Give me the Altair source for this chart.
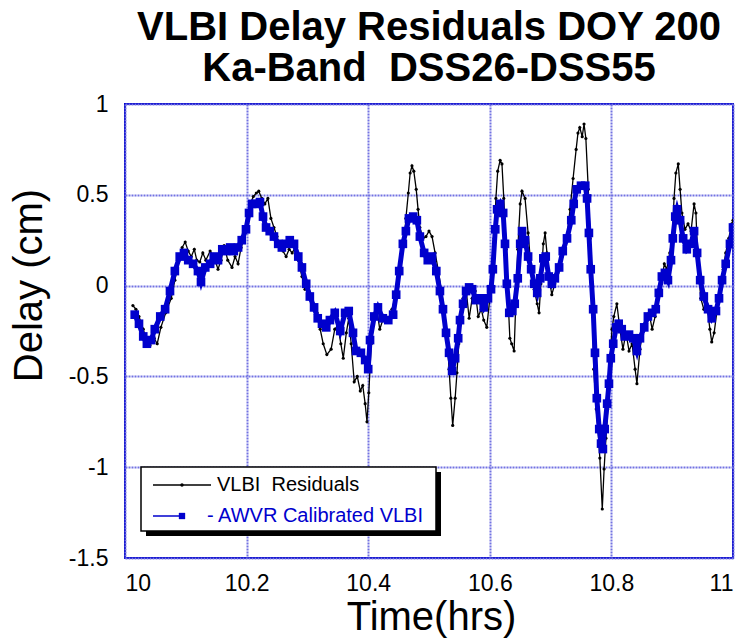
import altair as alt
import pandas as pd

# ---------------- data ----------------
vlbi_time = [
    10.013, 10.018, 10.023, 10.030, 10.036, 10.041, 10.048, 10.053, 10.059, 10.067,
    10.076, 10.082, 10.089, 10.094, 10.099, 10.104, 10.109, 10.114, 10.118, 10.123,
    10.128, 10.133, 10.140, 10.146, 10.153, 10.158, 10.163, 10.169, 10.176, 10.181,
    10.186, 10.191, 10.196, 10.201, 10.206, 10.211, 10.216, 10.220, 10.225, 10.230,
    10.235, 10.240, 10.245, 10.250, 10.255, 10.260, 10.265, 10.270, 10.275, 10.280,
    10.285, 10.291, 10.296, 10.301, 10.306, 10.311, 10.316, 10.321, 10.326, 10.332,
    10.339, 10.345, 10.350, 10.355, 10.359, 10.364, 10.368, 10.372, 10.377, 10.382,
    10.387, 10.391, 10.395, 10.398, 10.401, 10.405, 10.410, 10.414, 10.419, 10.424,
    10.429, 10.434, 10.439, 10.444, 10.449, 10.454, 10.459, 10.462, 10.466, 10.469,
    10.472, 10.475, 10.479, 10.482, 10.485, 10.490, 10.495, 10.500, 10.505, 10.510,
    10.515, 10.520, 10.525, 10.530, 10.533, 10.536, 10.539, 10.543, 10.546, 10.549,
    10.553, 10.556, 10.561, 10.566, 10.571, 10.576, 10.581, 10.586, 10.590, 10.595,
    10.600, 10.604, 10.607, 10.610, 10.613, 10.617, 10.620, 10.623, 10.627, 10.630,
    10.633, 10.636, 10.640, 10.643, 10.646, 10.650, 10.653, 10.658, 10.663, 10.668,
    10.673, 10.678, 10.681, 10.684, 10.688, 10.691, 10.694, 10.699, 10.702, 10.707,
    10.712, 10.717, 10.722, 10.727, 10.732, 10.737, 10.742, 10.745, 10.748, 10.752,
    10.755, 10.758, 10.762, 10.765, 10.768, 10.771, 10.775, 10.778, 10.781, 10.785,
    10.788, 10.791, 10.794, 10.798, 10.801, 10.804, 10.809, 10.814, 10.819, 10.824,
    10.829, 10.834, 10.839, 10.842, 10.847, 10.852, 10.857, 10.862, 10.867, 10.872,
    10.877, 10.882, 10.887, 10.891, 10.896, 10.900, 10.903, 10.906, 10.910, 10.913,
    10.916, 10.921, 10.926, 10.931, 10.936, 10.939, 10.942, 10.947, 10.952, 10.957,
    10.962, 10.965, 10.969, 10.974, 10.979, 10.984, 10.988, 10.993, 10.998, 11.000,
]
vlbi_delay = [
    -0.11, -0.13, -0.17, -0.24, -0.31, -0.33, -0.29, -0.32, -0.23, -0.15,
    -0.07, 0.03, 0.14, 0.21, 0.24, 0.19, 0.16, 0.20, 0.14, 0.13,
    0.18, 0.14, 0.19, 0.16, 0.09, 0.14, 0.22, 0.14, 0.10, 0.16,
    0.12, 0.21, 0.26, 0.36, 0.45, 0.49, 0.51, 0.52, 0.48, 0.45,
    0.48, 0.37, 0.32, 0.27, 0.21, 0.19, 0.16, 0.20, 0.18, 0.21,
    0.14, 0.05, -0.02, 0.02, -0.07, -0.13, -0.15, -0.24, -0.32, -0.38,
    -0.35, -0.24, -0.22, -0.32, -0.40, -0.26, -0.18, -0.32, -0.53, -0.50,
    -0.58, -0.55, -0.65, -0.75, -0.59, -0.32, -0.18, -0.13, -0.24, -0.19,
    -0.17, -0.19, -0.13, -0.07, 0.04, 0.14, 0.23, 0.37, 0.51, 0.62,
    0.66, 0.63, 0.53, 0.42, 0.32, 0.26, 0.27, 0.30, 0.27, 0.18,
    0.09, -0.02, -0.13, -0.29, -0.46, -0.62, -0.77, -0.62, -0.48, -0.32,
    -0.18, -0.07, -0.02, -0.18, -0.07, -0.03, -0.17, -0.13, -0.19, -0.23,
    -0.07, 0.04, 0.26, 0.48, 0.63, 0.69, 0.67, 0.48, 0.20, -0.07,
    -0.29, -0.32, -0.36, -0.07, 0.20, 0.45, 0.52, 0.48, 0.29, 0.09,
    -0.02, -0.10, -0.15, 0.01, 0.23, 0.29, 0.18, 0.01, -0.05, 0.01,
    0.07, 0.14, 0.19, 0.27, 0.42, 0.59, 0.75, 0.84, 0.87, 0.82,
    0.89, 0.81, 0.53, 0.26, -0.02, -0.46, -0.68, -0.79, -0.95, -1.23,
    -1.01, -0.84, -0.68, -0.40, -0.24, -0.17, -0.10, -0.24, -0.35, -0.26,
    -0.36, -0.32, -0.46, -0.54, -0.35, -0.24, -0.18, -0.15, -0.24, -0.17,
    -0.07, 0.01, 0.12, 0.09, 0.18, 0.26, 0.48, 0.62, 0.67, 0.53,
    0.40, 0.31, 0.34, 0.30, 0.45, 0.40, 0.15, -0.07, -0.13, -0.10,
    -0.24, -0.31, -0.26, -0.13, -0.02, 0.09, 0.18, 0.26, 0.34, 0.36,
]

awvr_time = [
    10.016, 10.023, 10.030, 10.036, 10.043, 10.049, 10.058, 10.066, 10.074, 10.082,
    10.090, 10.097, 10.104, 10.112, 10.120, 10.125, 10.132, 10.140, 10.146, 10.153,
    10.160, 10.166, 10.173, 10.179, 10.186, 10.192, 10.199, 10.204, 10.209, 10.215,
    10.222, 10.227, 10.232, 10.238, 10.245, 10.252, 10.258, 10.265, 10.271, 10.278,
    10.285, 10.291, 10.298, 10.304, 10.311, 10.317, 10.324, 10.331, 10.337, 10.345,
    10.354, 10.362, 10.368, 10.375, 10.380, 10.388, 10.395, 10.400, 10.403, 10.410,
    10.416, 10.424, 10.433, 10.441, 10.446, 10.451, 10.457, 10.462, 10.467, 10.474,
    10.480, 10.485, 10.492, 10.498, 10.505, 10.512, 10.518, 10.523, 10.528, 10.533,
    10.538, 10.543, 10.548, 10.551, 10.556, 10.561, 10.566, 10.571, 10.577, 10.584,
    10.590, 10.597, 10.602, 10.605, 10.609, 10.612, 10.617, 10.622, 10.625, 10.628,
    10.632, 10.637, 10.641, 10.646, 10.650, 10.653, 10.658, 10.663, 10.668, 10.673,
    10.678, 10.683, 10.688, 10.692, 10.697, 10.702, 10.707, 10.714, 10.720, 10.727,
    10.734, 10.738, 10.743, 10.750, 10.757, 10.760, 10.763, 10.766, 10.770, 10.773,
    10.776, 10.780, 10.783, 10.786, 10.789, 10.793, 10.796, 10.799, 10.803, 10.808,
    10.812, 10.817, 10.822, 10.829, 10.836, 10.842, 10.847, 10.854, 10.860, 10.867,
    10.873, 10.878, 10.883, 10.888, 10.893, 10.898, 10.901, 10.905, 10.908, 10.913,
    10.918, 10.924, 10.931, 10.936, 10.941, 10.946, 10.952, 10.959, 10.965, 10.972,
    10.977, 10.982, 10.988, 10.995, 11.000,
]
awvr_delay = [
    -0.16, -0.21, -0.28, -0.32, -0.30, -0.24, -0.17, -0.13, -0.03, 0.08,
    0.16, 0.18, 0.14, 0.12, 0.08, 0.02, 0.10, 0.12, 0.16, 0.14,
    0.20, 0.19, 0.21, 0.19, 0.21, 0.25, 0.31, 0.40, 0.45, 0.45,
    0.46, 0.38, 0.32, 0.30, 0.27, 0.23, 0.21, 0.23, 0.25, 0.23,
    0.16, 0.10, 0.01, -0.06, -0.12, -0.18, -0.21, -0.23, -0.19, -0.15,
    -0.25, -0.15, -0.14, -0.26, -0.36, -0.37, -0.41, -0.46, -0.30, -0.17,
    -0.12, -0.18, -0.19, -0.16, -0.05, 0.08, 0.23, 0.30, 0.37, 0.38,
    0.36, 0.27, 0.18, 0.14, 0.16, 0.08, -0.03, -0.13, -0.26, -0.37,
    -0.47, -0.40, -0.29, -0.19, -0.10, -0.03, -0.01, -0.02, -0.08, -0.07,
    -0.12, -0.07, -0.02, 0.09, 0.31, 0.42, 0.45, 0.40, 0.23, 0.01,
    -0.15, -0.14, -0.10, 0.04, 0.23, 0.30, 0.25, 0.16, 0.09, 0.01,
    -0.04, 0.04, 0.15, 0.16, 0.05, 0.01, 0.04, 0.10, 0.19, 0.26,
    0.36, 0.45, 0.53, 0.55, 0.55, 0.48, 0.29, 0.09, -0.13, -0.37,
    -0.62, -0.79, -0.87, -0.90, -0.79, -0.65, -0.54, -0.40, -0.32, -0.23,
    -0.21, -0.24, -0.28, -0.27, -0.29, -0.36, -0.29, -0.23, -0.17, -0.15,
    -0.13, -0.04, 0.05, 0.07, 0.03, 0.14, 0.26, 0.38, 0.42, 0.36,
    0.26, 0.20, 0.23, 0.30, 0.18, 0.03, -0.06, -0.13, -0.18, -0.14,
    -0.07, 0.03, 0.12, 0.23, 0.32,
]

x_ticks = [10, 10.2, 10.4, 10.6, 10.8, 11]
y_ticks = [1, 0.5, 0, -0.5, -1, -1.5]
legend_labels = ["VLBI\u00a0 Residuals", "- AWVR Calibrated VLBI"]
title_lines = ["VLBI Delay Residuals DOY 200", "Ka-Band\u00a0 DSS26-DSS55"]

# ---------------- chart ----------------
FONT = "Liberation Sans"
BLUE = "#0000CD"
GRID = "#7272E2"

vlbi = pd.DataFrame({"t": vlbi_time, "d": vlbi_delay})
awvr = pd.DataFrame({"t": awvr_time, "d": awvr_delay})

xscale = alt.Scale(domain=[10, 11], nice=False, zero=False)
yscale = alt.Scale(domain=[-1.5, 1], nice=False, zero=False)

xax = alt.Axis(values=x_ticks, labelExpr="'' + datum.value", title="Time(hrs)",
               grid=True, gridColor=GRID, gridWidth=2, gridDash=[2, 1],
               ticks=False, domain=False, labelFontSize=23, labelPadding=14,
               labelColor="black", labelFont=FONT, titleFont=FONT,
               titleFontSize=40, titleFontWeight="normal", titleColor="black",
               titleX=306, titleY=59, titleBaseline="middle", titleAlign="center")
yax = alt.Axis(values=y_ticks, labelExpr="'' + datum.value", title="Delay (cm)",
               grid=True, gridColor=GRID, gridWidth=2, gridDash=[2, 1],
               ticks=False, domain=False, labelFontSize=23, labelPadding=17,
               labelColor="black", labelFont=FONT, titleFont=FONT,
               titleFontSize=40, titleFontWeight="normal", titleColor="black",
               titleAngle=270, titleX=-96, titleY=181, titleBaseline="middle",
               titleAlign="center")

black_line = alt.Chart(vlbi).mark_line(
    color="black", strokeWidth=1.3, clip=True,
    point=alt.OverlayMarkDef(size=10, filled=True, color="black")
).encode(
    x=alt.X("t:Q", scale=xscale, axis=xax),
    y=alt.Y("d:Q", scale=yscale, axis=yax),
    order="t:Q",
)

blue_line = alt.Chart(awvr).mark_line(color=BLUE, strokeWidth=5, clip=True).encode(
    x=alt.X("t:Q", scale=xscale),
    y=alt.Y("d:Q", scale=yscale),
    order="t:Q",
)
blue_pts = alt.Chart(awvr).mark_square(color=BLUE, size=75, opacity=1, clip=True).encode(
    x=alt.X("t:Q", scale=xscale),
    y=alt.Y("d:Q", scale=yscale),
)

# ---------------- legend (drawn as decoration) ----------------
one = pd.DataFrame({"k": [0]})
shadow = alt.Chart(one).mark_rect(color="black").encode(
    x=alt.value(21), x2=alt.value(316), y=alt.value(368), y2=alt.value(432))
box = alt.Chart(one).mark_rect(fill="white", stroke="black", strokeWidth=1.5).encode(
    x=alt.value(16), x2=alt.value(311), y=alt.value(363), y2=alt.value(427))
leg_rule1 = alt.Chart(one).mark_rule(color="black", strokeWidth=1.3).encode(
    x=alt.value(28), x2=alt.value(86), y=alt.value(381))
leg_pt1 = alt.Chart(one).mark_circle(color="black", size=12, opacity=1).encode(
    x=alt.value(57), y=alt.value(381))
leg_rule2 = alt.Chart(one).mark_rule(color=BLUE, strokeWidth=1.5).encode(
    x=alt.value(28), x2=alt.value(60), y=alt.value(412))
leg_pt2 = alt.Chart(one).mark_square(color=BLUE, size=40, opacity=1).encode(
    x=alt.value(57), y=alt.value(412))
leg_txt1 = alt.Chart(pd.DataFrame({"lab": [legend_labels[0]]})).mark_text(
    align="left", baseline="middle", font=FONT, fontSize=20, color="black").encode(
    x=alt.value(92), y=alt.value(381), text="lab:N")
leg_txt2 = alt.Chart(pd.DataFrame({"lab": [legend_labels[1]]})).mark_text(
    align="left", baseline="middle", font=FONT, fontSize=20, color=BLUE).encode(
    x=alt.value(82), y=alt.value(412), text="lab:N")

chart = alt.layer(
    black_line, blue_line, blue_pts,
    shadow, box, leg_rule1, leg_pt1, leg_rule2, leg_pt2, leg_txt1, leg_txt2,
).properties(
    width=608, height=454,
    title=alt.Title(title_lines, font=FONT, fontSize=40, fontWeight="bold",
                    color="black", anchor="middle", frame="group",
                    offset=4, lineHeight=41),
    autosize=alt.AutoSizeParams(type="none"),
    padding={"left": 125, "top": 104, "right": 11, "bottom": 81},
    background="white",
).configure_view(
    stroke=BLUE, strokeWidth=2
)

chart.save("out.html", embed_options={"renderer": "svg", "actions": False})
